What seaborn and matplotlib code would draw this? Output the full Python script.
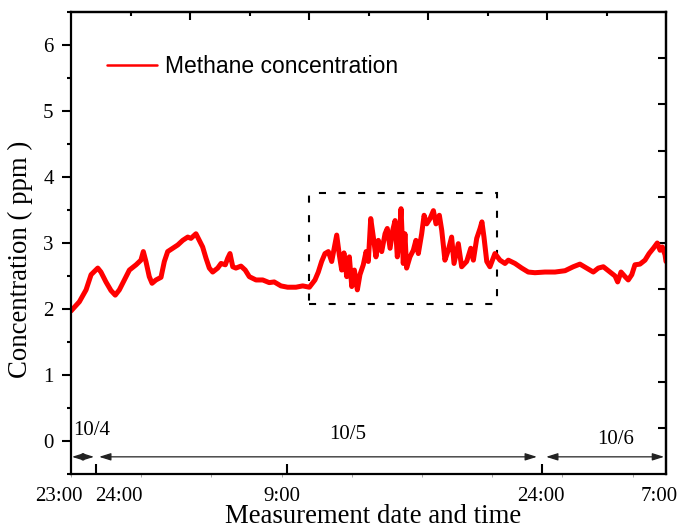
import numpy as np
import pandas as pd
import matplotlib
matplotlib.use("Agg")
import matplotlib.pyplot as plt
import matplotlib.transforms as mtransforms
from matplotlib.ticker import MultipleLocator, FixedLocator, NullFormatter
from matplotlib.lines import Line2D
from matplotlib.patches import Rectangle
import seaborn as sns

# ---------------- data ----------------
hours = [0.00, 0.45, 0.81, 1.08, 1.44, 1.61, 1.88, 2.15, 2.38, 2.60, 2.87, 3.14,
         3.50, 3.76, 3.89, 4.03, 4.21, 4.36, 4.57, 4.84, 5.02, 5.20, 5.47, 5.74,
         6.01, 6.28, 6.45, 6.72, 6.90, 7.08, 7.26, 7.44, 7.62, 7.89, 8.07, 8.30,
         8.43, 8.55, 8.70, 8.87, 9.14, 9.37, 9.59, 9.95, 10.31, 10.66, 10.93,
         11.29, 11.65, 12.10, 12.46, 12.82, 13.12, 13.30, 13.48, 13.66, 13.84,
         14.02, 14.20, 14.29, 14.43, 14.56, 14.68, 14.83, 14.97, 15.10, 15.24,
         15.40, 15.54, 15.72, 15.87, 15.99, 16.12, 16.26, 16.40, 16.53, 16.71,
         16.89, 17.01, 17.16, 17.30, 17.43, 17.55, 17.66, 17.75, 17.87, 17.96,
         18.05, 18.23, 18.41, 18.55, 18.68, 18.86, 18.99, 19.13, 19.31, 19.49,
         19.63, 19.81, 19.94, 20.11, 20.29, 20.47, 20.60, 20.83, 21.01, 21.28,
         21.50, 21.64, 21.82, 22.00, 22.10, 22.21, 22.36, 22.53, 22.80, 23.07,
         23.34, 23.52, 23.88, 24.24, 24.59, 24.95, 25.49, 26.03, 26.57, 27.01,
         27.37, 27.73, 28.09, 28.36, 28.63, 28.99, 29.26, 29.40, 29.58, 29.80,
         29.97, 30.16, 30.33, 30.60, 30.87, 31.09, 31.32, 31.53, 31.68, 31.80,
         31.95, 32.00]
methane_ppm = [1.97, 2.11, 2.29, 2.52, 2.62, 2.56, 2.41, 2.28, 2.21, 2.29, 2.44, 2.59,
               2.67, 2.74, 2.87, 2.72, 2.49, 2.39, 2.44, 2.48, 2.72, 2.87, 2.92, 2.97,
               3.04, 3.09, 3.07, 3.14, 3.04, 2.94, 2.77, 2.62, 2.56, 2.62, 2.69, 2.67,
               2.77, 2.84, 2.64, 2.62, 2.65, 2.59, 2.49, 2.44, 2.44, 2.40, 2.41,
               2.35, 2.33, 2.33, 2.35, 2.33, 2.44, 2.56, 2.72, 2.84, 2.87,
               2.72, 2.99, 3.12, 2.82, 2.59, 2.85, 2.49, 2.79, 2.34, 2.59,
               2.29, 2.52, 2.67, 2.87, 2.72, 3.37, 3.09, 2.79, 3.04, 2.87,
               3.14, 3.22, 2.92, 3.19, 3.34, 2.79, 3.09, 3.52, 2.69, 3.14,
               2.62, 2.79, 2.89, 3.04, 2.84, 3.14, 3.42, 3.29, 3.37, 3.49,
               3.29, 3.42, 3.19, 2.74, 2.89, 3.09, 2.69, 2.99, 2.64, 2.72,
               2.92, 2.74, 3.07, 3.22, 3.32, 3.09, 2.72, 2.64, 2.84, 2.74,
               2.69, 2.74, 2.69, 2.62, 2.56, 2.55, 2.56, 2.56, 2.58, 2.64,
               2.68, 2.62, 2.56, 2.62, 2.64, 2.56, 2.50, 2.41, 2.56, 2.49,
               2.44, 2.52, 2.67, 2.68, 2.74, 2.84, 2.92, 3.00, 2.89, 2.94,
               2.82, 2.72]

time_labels = ["23:00", "24:00", "9:00", "24:00", "7:00"]
time_label_pos = [-0.65, 2.58, 11.35, 25.28, 31.62]
day_tick_pos = [1.32, 11.62, 25.33]
date_labels = ["10/4", "10/5", "10/6"]
date_label_x = [1.11, 14.87, 29.31]
date_label_y = [0.16, 0.10, 0.03]
date_span_start = [0.05, 1.51, 25.55]
date_span_end = [1.24, 25.06, 31.90]
box_x = [12.82, 22.90]
box_y = [2.08, 3.76]
arrow_y = -0.24

# ---------------- style ----------------
sns.set_style("ticks")
plt.rcParams['font.family'] = ['Liberation Serif', 'DejaVu Serif']
for key in ['text.color', 'axes.labelcolor', 'xtick.color', 'ytick.color',
            'axes.edgecolor']:
    plt.rcParams[key] = 'black'

fig = plt.figure(figsize=(6.79, 5.29), dpi=100)
ax = fig.add_axes([71 / 679, 55 / 529, 595 / 679, 462 / 529])

df = pd.DataFrame({"hours": hours, "ppm": methane_ppm})
sns.lineplot(data=df, x="hours", y="ppm", ax=ax, color="#ff0000",
             linewidth=3.6, sort=False, legend=False)
ax.set_xlabel("")
ax.set_ylabel("")

ax.set_xlim(0, 32)
ax.set_ylim(-0.5, 6.5)

for sp in ax.spines.values():
    sp.set_linewidth(1.6)
    sp.set_color('black')

# left axis
ax.yaxis.set_major_locator(MultipleLocator(1))
ax.yaxis.set_minor_locator(MultipleLocator(0.5))
ax.tick_params(axis='y', which='major', direction='out', length=6.5, width=1.5,
               labelsize=15, pad=6, colors='black')
ax.tick_params(axis='y', which='minor', direction='out', length=3, width=1.5)

# bottom axis
ax.xaxis.set_major_locator(FixedLocator(day_tick_pos))
ax.xaxis.set_major_formatter(NullFormatter())
ax.xaxis.set_minor_locator(FixedLocator(np.arange(0, 32.01, 3.775)))
ax.tick_params(axis='x', which='major', direction='in', length=7.5, width=1.5,
               color='black')
ax.tick_params(axis='x', which='minor', direction='out', length=2.5, width=0.6,
               color='#999999')

# top axis
secx = ax.secondary_xaxis('top')
secx.xaxis.set_major_locator(FixedLocator([6.4, 12.8, 19.2, 25.6]))
secx.xaxis.set_minor_locator(FixedLocator([3.2, 9.6, 16.0, 22.4, 28.8]))
secx.tick_params(which='major', direction='in', length=5.8, width=1.5,
                 labeltop=False, color='black')
secx.tick_params(which='minor', direction='in', length=2.8, width=1.5, color='black')
secx.spines['top'].set_linewidth(1.6)

# right axis
secy = ax.secondary_yaxis('right')
secy.yaxis.set_major_locator(FixedLocator(np.arange(0.2, 6.4, 0.7)))
secy.yaxis.set_minor_locator(FixedLocator([]))
secy.tick_params(which='major', direction='in', length=5.8, width=1.5,
                 labelright=False, color='black')
secy.spines['right'].set_linewidth(1.6)

# x tick labels as text
trans = mtransforms.blended_transform_factory(ax.transData, ax.transAxes)
for pos, lab in zip(time_label_pos, time_labels):
    ax.text(pos, -0.048, lab, transform=trans, ha='center', va='center',
            fontsize=15, clip_on=False)

# date spans
for a, b in zip(date_span_start, date_span_end):
    ax.annotate('', xy=(b, arrow_y), xytext=(a, arrow_y),
                arrowprops=dict(arrowstyle='<|-|>,head_length=0.7,head_width=0.22',
                                color='#222222', lw=0.9, shrinkA=0, shrinkB=0,
                                mutation_scale=10))
for x, y, lab in zip(date_label_x, date_label_y, date_labels):
    ax.text(x, y, lab, ha='center', va='center', fontsize=15)

# dashed zoom box
ax.add_patch(Rectangle((box_x[0], box_y[0]), box_x[1] - box_x[0], box_y[1] - box_y[0],
                       fill=False, edgecolor='black', linewidth=1.5,
                       linestyle=(0, (3.4, 6.0))))

# legend
handle = Line2D([], [], color='#ff0000', linewidth=1.8)
ax.legend([handle], ['Methane concentration'], loc='center left',
          bbox_to_anchor=(0.0605, 0.883), frameon=False,
          prop={'family': 'Liberation Sans', 'size': 16.5},
          handlelength=2.18, handletextpad=0.35, borderpad=0, borderaxespad=0)

# axis titles
fig.text(20 / 679, 1 - 259 / 529, 'Concentration ( ppm )', rotation=90,
         ha='center', va='center', fontsize=19.3)
fig.text(373 / 679, 6 / 529, 'Measurement date and time', ha='center',
         va='baseline', fontsize=19.3)

fig.savefig('out.png', dpi=100)
